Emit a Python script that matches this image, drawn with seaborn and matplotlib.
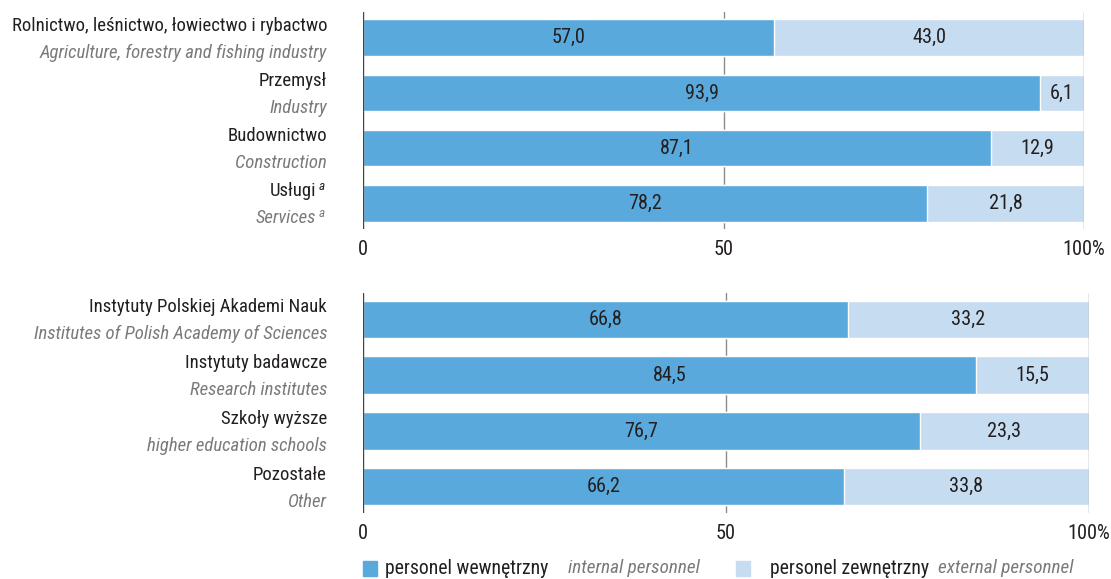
import numpy as np
import pandas as pd
import matplotlib.pyplot as plt
import seaborn as sns
from matplotlib import font_manager as fm
from matplotlib.patches import Rectangle

# sectors (top panel)
sector_pl = ["Rolnictwo, leśnictwo, łowiectwo i rybactwo", "Przemysł", "Budownictwo", "Usługi"]
sector_en = ["Agriculture, forestry and fishing industry", "Industry", "Construction", "Services"]
sector_note = [False, False, False, True]
sector_internal = [57.0, 93.9, 87.1, 78.2]
sector_external = [43.0, 6.1, 12.9, 21.8]

# institutions (bottom panel)
inst_pl = ["Instytuty Polskiej Akademi Nauk", "Instytuty badawcze", "Szkoły wyższe", "Pozostałe"]
inst_en = ["Institutes of Polish Academy of Sciences", "Research institutes", "higher education schools", "Other"]
inst_note = [False, False, False, False]
inst_internal = [66.8, 84.5, 76.7, 66.2]
inst_external = [33.2, 15.5, 23.3, 33.8]

tick_values = [0, 50, 100]
tick_labels = ["0", "50", "100%"]

DARK = "#5aa9dc"
LIGHT = "#c6ddf1"
GREY_TXT = "#7a7a7a"
TXT = "#231f20"

sns.set_theme(style="white")
plt.rcParams["font.family"] = ["DejaVu Sans"]


def pick_condensed():
    narrow = [f for f in fm.fontManager.ttflist
              if "condensed" in str(f.stretch).lower() or "Narrow" in f.name or "Condensed" in f.name]
    def ok(f, italic):
        st = f.style in ("italic", "oblique")
        return st == italic and f.weight in (400, "normal", "regular", "book")
    for pref in ["Liberation Sans Narrow", "Roboto Condensed", "Open Sans Condensed", "Noto Sans", "DejaVu Sans"]:
        reg = [f for f in narrow if f.name.startswith(pref) and ok(f, False)]
        ita = [f for f in narrow if f.name.startswith(pref) and ok(f, True)]
        if reg and ita:
            return reg[0].fname, ita[0].fname, True
    return None, None, False


REG_FILE, IT_FILE, CONDENSED = pick_condensed()


def font(size, italic=False):
    if CONDENSED:
        return fm.FontProperties(fname=IT_FILE if italic else REG_FILE, size=size)
    return fm.FontProperties(family="Roboto", style="italic" if italic else "normal", size=size * 0.82)


FP_SIDE = font(13.5)
FP_SIDE_IT = font(13.5, True)
FP_SUP = font(9.5, True)
FP_NUM = font(14.6)
FP_LEG = font(14.2)
FP_LEG_IT = font(13.8, True)


def fmt(v):
    return f"{v:.1f}".replace(".", ",")


def side_label(ax, i, text, dy, fp, color, note):
    dx = -47 if note else -36
    ax.annotate(text, xy=(0, i), xycoords=("axes fraction", "data"),
                xytext=(dx, dy), textcoords="offset pixels",
                ha="right", va="center", fontproperties=fp, color=color, annotation_clip=False)
    if note:
        ax.annotate("a", xy=(0, i), xycoords=("axes fraction", "data"),
                    xytext=(dx + 3, dy + 5), textcoords="offset pixels",
                    ha="left", va="center", fontproperties=FP_SUP, color=color, annotation_clip=False)


def draw_panel(ax, pl, en, note, internal, external):
    df = pd.DataFrame({"cat": pl, "internal": internal, "external": external})
    df["total"] = df["internal"] + df["external"]
    ax.axvline(0, color="#444444", lw=1.0, zorder=5)
    ax.axvline(50, color="#8c8c8c", lw=1.0, zorder=0)
    ax.axvline(100, color="#8c8c8c", lw=1.0, zorder=5)
    sns.barplot(data=df, x="total", y="cat", color=LIGHT, width=0.67,
                orient="h", saturation=1, ax=ax, zorder=2)
    sns.barplot(data=df, x="internal", y="cat", color=DARK, width=0.67,
                orient="h", saturation=1, ax=ax, zorder=3)
    for i, row in df.iterrows():
        ax.text(row["internal"] / 2, i, fmt(row["internal"]), ha="center", va="center",
                fontproperties=FP_NUM, color=TXT, zorder=4)
        ax.text(row["internal"] + row["external"] / 2, i, fmt(row["external"]),
                ha="center", va="center", fontproperties=FP_NUM, color=TXT, zorder=4)
        side_label(ax, i, pl[i], 12, FP_SIDE, TXT, note[i])
        side_label(ax, i, en[i], -15, FP_SIDE_IT, GREY_TXT, note[i])
    ax.set_xlim(0, 100)
    ax.set_ylim(3.47, -0.47)
    ax.set_yticks([])
    ax.set_xticks(tick_values)
    ax.set_xticklabels(tick_labels, fontproperties=FP_NUM, color=TXT)
    ax.tick_params(axis="x", length=0, pad=8)
    ax.set_xlabel("")
    ax.set_ylabel("")
    for s in ax.spines.values():
        s.set_visible(False)


fig = plt.figure(figsize=(11.11, 5.79), dpi=100)
ax_top = fig.add_axes([363 / 1111, 1 - 229 / 579, 721 / 1111, 217 / 579])
ax_bot = fig.add_axes([363 / 1111, 1 - 513 / 579, 726 / 1111, 220 / 579])

draw_panel(ax_top, sector_pl, sector_en, sector_note, sector_internal, sector_external)
draw_panel(ax_bot, inst_pl, inst_en, inst_note, inst_internal, inst_external)

# legend drawn by hand (two-language labels)
ly = 1 - 568 / 579
fig.patches.append(Rectangle((363 / 1111, 1 - 576 / 579), 14 / 1111, 15 / 579,
                             transform=fig.transFigure, color=DARK))
fig.text(385 / 1111, ly, "personel wewnętrzny", fontproperties=FP_LEG, color=TXT, va="center")
fig.text(568 / 1111, ly, "internal personnel", fontproperties=FP_LEG_IT, color=GREY_TXT, va="center")
fig.patches.append(Rectangle((736 / 1111, 1 - 576 / 579), 14 / 1111, 15 / 579,
                             transform=fig.transFigure, color=LIGHT))
fig.text(770 / 1111, ly, "personel zewnętrzny", fontproperties=FP_LEG, color=TXT, va="center")
fig.text(938 / 1111, ly, "external personnel", fontproperties=FP_LEG_IT, color=GREY_TXT, va="center")

fig.savefig("out.png", dpi=100)
